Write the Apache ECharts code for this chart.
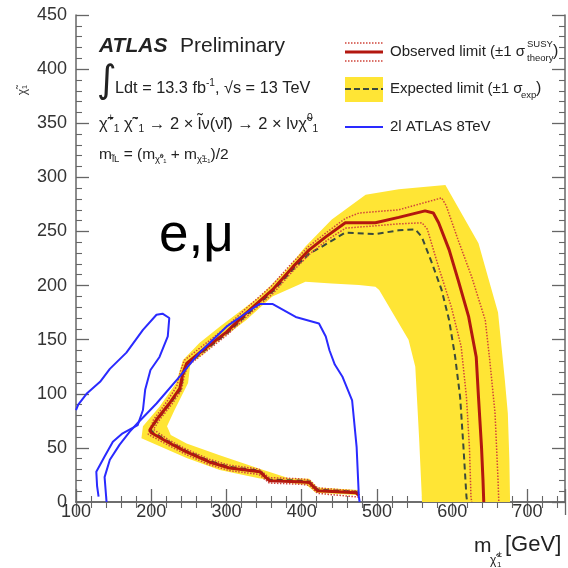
<!DOCTYPE html>
<html><head><meta charset="utf-8">
<script src="https://cdn.jsdelivr.net/npm/echarts@6/dist/echarts.min.js"></script>
<style>html,body{margin:0;padding:0;background:#fff}#c{width:568px;height:568px}</style>
</head><body><div id="c"></div>
<script>
// ---- data (GeV) ----
const xTicks = [100, 200, 300, 400, 500, 600, 700];
const yTicks = [0, 50, 100, 150, 200, 250, 300, 350, 400, 450];

const observed = [[476,6],[472,8.6],[421,10.5],[410,18],[396,18.8],[357,19.7],[344,28],[304,31.4],[277,37],[246,46.5],[224,54.5],[200,64],[198,66.5],[207,76],[224,91],[238,105],[242,119],[247,128],[268,140],[300,157],[326,174.5],[361,196],[388,217],[410,233],[432,245],[458,258],[498,258],[529,263],[564,269],[575,267],[582,258],[596,233],[608,205],[622,171],[632,134],[635,97],[639,51],[641,20],[642,0]];

const expected = [[476,8],[472,9.5],[421,11.5],[410,19],[396,19.8],[357,20.7],[344,29],[304,32.4],[277,38],[246,47.5],[224,55.5],[201,65],[199.5,67.5],[208,76],[225,91],[239,104],[243,118],[248,127],[269,139],[301,156],[327,173],[362,195],[389,215.5],[411,230],[427,236],[458,249],[498,247.6],[529,251],[551,252],[559.6,245],[573,221],[586,196],[596,168],[604,134],[610.6,97],[615,51],[619,5],[620,0]];

const theoryUp = [[476,4.5],[421,8],[410,15.5],[396,16.5],[357,17.5],[343,25.5],[304,29],[277,34.5],[246,44],[224,52],[196,62.5],[203,76],[221,93],[234,107],[239,121],[244,131],[266,143],[297,160],[324,177.5],[359,199],[386,220],[409,236],[431,248],[458,262],[476,267],[529,270],[586,281],[592,274],[608,242],[626,208],[644,168],[650,131],[657,82],[661,20],[662,0]];

const theoryDown = [[476,10],[421,13],[410,20.5],[396,21.5],[357,22.5],[343,30.5],[304,34],[277,39.5],[246,49],[224,57],[203,67],[210,75],[227,90],[240,103],[244,117],[249,126],[270,137.5],[301,154.5],[328,172],[363,193.5],[389,214],[412,230],[434,242],[458,253],[529,257],[560,258],[567,252],[582,217],[599,180],[612,143.5],[619,97],[623,50],[625,5],[626,0]];

const bandOuter = [[677,0],[676,40],[674,82],[670,113],[661,175],[648,207],[635,239],[591,293],[529,289],[485,284],[440,261],[405,236],[379,214],[344,190],[291,162],[264,147],[242,131],[233,110],[211,88],[189,70],[187,59],[247,40.6],[291,29.6],[343,22],[383,17.5],[406,16],[419,8.5],[472,6.5],[476,4.5]];
const bandInner = [[476,11],[421,13.5],[410,21.5],[383,22],[343,31],[290,43.4],[247,54],[226,62],[221,70],[231,85],[249,110],[252,128],[270,137],[286,147],[326,168],[361,190],[405,203.5],[440,202],[476,200.5],[498,199],[503,196],[542,150],[551,125],[556,60],[560,0]];

const atlas8TeV_a = [[100,85],[103,90],[114,100],[132,111],[145,123],[167,138],[189,159],[207,173],[215,174],[224,170],[222,153],[211,134],[199,122],[192,104],[189,85],[182,71],[162,63.5],[149,55.7],[138,42],[127,28],[128,15],[130,5]];
const atlas8TeV_b = [[140.6,0],[138,23],[145,39],[158,53],[171.5,65],[182,73],[207,91],[238,116],[264,138],[300,162],[326,174.6],[344,183],[361,183],[392,171],[423,165],[432,153],[437,140],[444,127],[454,116],[467,94],[473,51],[476,5],[477,0]];

// ---- chart ----
const FONT = "'Liberation Sans', Arial, Helvetica, sans-serif";
const RED = '#b3170f', DOT = '#d0443a', DASH = '#3b4a3c', BLUE = '#2a2aff', YEL = '#ffe535', AX = '#666';
const chart = echarts.init(document.getElementById('c'), null, {renderer: 'canvas'});

const commonAxis = {
  axisLine: {show: true, lineStyle: {color: AX, width: 1.5}},
  axisTick: {show: true, inside: true, length: 13, lineStyle: {color: AX, width: 1.3}},
  minorTick: {show: true, splitNumber: 5, length: 6, lineStyle: {color: AX, width: 1.1}},
  splitLine: {show: false}
};
const xAx = (pos, labels) => Object.assign({}, commonAxis, {
  type: 'value', position: pos, min: 100, max: 750, interval: 100,
  axisLabel: {show: labels, margin: 1, fontSize: 18, fontFamily: FONT, color: '#333',
    formatter: v => xTicks.includes(v) ? String(v) : ''}
});
const yAx = (pos, labels) => Object.assign({}, commonAxis, {
  type: 'value', position: pos, min: 0, max: 450, interval: 50,
  axisLabel: {show: labels, margin: 9, fontSize: 18, fontFamily: FONT, color: '#333',
    formatter: v => yTicks.includes(v) ? String(v) : ''}
});

const line = (data, color, width, type, z) => ({
  type: 'line', data, xAxisIndex: 0, yAxisIndex: 0, symbol: 'none', showSymbol: false,
  lineStyle: {color, width, type}, z, silent: true, animation: false
});

const T = (x, y, text, size, extra) => ({type: 'text', x, y, silent: true,
  style: Object.assign({text, fontSize: size, fontFamily: FONT, fill: '#222', align: 'left', verticalAlign: 'middle'}, extra || {})});

const richFormula = (size) => ({
  b: {fontSize: size, fontFamily: FONT, fill: '#222'},
  sp: {fontSize: size * 0.62, fontFamily: FONT, fill: '#222', padding: [0, 0, size * 0.75, 0]},
  sb: {fontSize: size * 0.62, fontFamily: FONT, fill: '#222', padding: [size * 0.6, 0, 0, 0]}
});

const graphics = [
  // ATLAS label
  T(99, 46, 'ATLAS', 21, {fontWeight: 'bold', fontStyle: 'italic'}),
  T(180, 46, 'Preliminary', 21),
  T(97, 82, '\u222B', 38, {fontFamily: "'DejaVu Sans', sans-serif"}),
  {type: 'text', x: 115, y: 89, silent: true, style: {text: '{b|Ldt = 13.3 fb}{sp|-1}{b|, \u221As = 13 TeV}', rich: richFormula(16.3), verticalAlign: 'middle', align: 'left'}},
  {type: 'text', x: 99, y: 124, silent: true, style: {text: '{b|\u03C7\u0303}{sp|+}{sb|1}{b| \u03C7\u0303}{sp|\u2212}{sb|1}{b| \u2192 2 \u00D7 l\u0303\u03BD(\u03BD\u0303l) \u2192 2 \u00D7 l\u03BD\u03C7\u0303}{sp|0}{sb|1}', rich: richFormula(16.5), verticalAlign: 'middle', align: 'left'}},
  {type: 'text', x: 99, y: 155, silent: true, style: {text: '{b|m}{sb|l\u0303L}{b| = (m}{sb|\u03C7\u0303\u2070\u2081}{b| + m}{sb|\u03C7\u0303\u00B1\u2081}{b|)/2}', rich: richFormula(15.5), verticalAlign: 'middle', align: 'left'}},
  // e,mu
  T(159, 236, 'e,\u03BC', 53, {fill: '#000'}),
  // legend: observed
  {type: 'line', silent: true, shape: {x1: 345, y1: 43, x2: 383, y2: 43}, style: {stroke: DOT, lineWidth: 1.5, lineDash: [1.5, 1.5]}},
  {type: 'line', silent: true, shape: {x1: 345, y1: 52, x2: 383, y2: 52}, style: {stroke: RED, lineWidth: 3}},
  {type: 'line', silent: true, shape: {x1: 345, y1: 61, x2: 383, y2: 61}, style: {stroke: DOT, lineWidth: 1.5, lineDash: [1.5, 1.5]}},
  T(390, 52, 'Observed limit (\u00B11 \u03C3', 15),
  T(527, 44, 'SUSY', 9.5),
  T(527, 58, 'theory', 9.5),
  T(553, 52, ')', 16),
  // legend: expected
  {type: 'rect', silent: true, shape: {x: 345, y: 77, width: 38, height: 25}, style: {fill: YEL}},
  {type: 'line', silent: true, shape: {x1: 345, y1: 89, x2: 383, y2: 89}, style: {stroke: DASH, lineWidth: 2, lineDash: [6, 3]}},
  T(390, 89, 'Expected limit (\u00B11 \u03C3', 15),
  T(521, 95, 'exp', 9.5),
  T(536, 89, ')', 16),
  // legend: 8 TeV
  {type: 'line', silent: true, shape: {x1: 345, y1: 127, x2: 383, y2: 127}, style: {stroke: BLUE, lineWidth: 2}},
  T(390, 127, '2l ATLAS 8TeV', 15),
  // x-axis title
  T(474, 546, 'm', 21),
  T(490, 561, '\u03C7\u0303', 12),
  T(497, 555, '\u00B1', 9),
  T(497, 565, '1', 8),
  T(505, 545, '[GeV]', 22),
  // y-axis title fragment (cropped)
  {type: 'text', x: 23, y: 90, rotation: Math.PI / 2, silent: true,
   style: {text: '\u03C7\u0303\u2081', fontSize: 12, fontFamily: FONT, fill: '#444', align: 'center', verticalAlign: 'middle'}}
];

chart.setOption({
  animation: false,
  backgroundColor: '#fff',
  grid: {left: 76, right: 1, top: 15, bottom: 66, containLabel: false},
  xAxis: [xAx('bottom', true), xAx('top', false)],
  yAxis: [yAx('left', true), yAx('right', false)],
  graphic: graphics,
  series: [
    {
      type: 'custom', coordinateSystem: 'cartesian2d', xAxisIndex: 0, yAxisIndex: 0, z: 1, silent: true,
      data: [bandOuter[0]],
      renderItem: (params, api) => ({
        type: 'polygon',
        shape: {points: bandOuter.concat(bandInner).map(p => api.coord(p))},
        style: {fill: YEL, stroke: null}
      })
    },
    line(expected, DASH, 2, [6, 4], 3),
    line(theoryUp, DOT, 1.5, [1.5, 1.5], 4),
    line(theoryDown, DOT, 1.5, [1.5, 1.5], 4),
    line(observed, RED, 3, 'solid', 5),
    line(atlas8TeV_a, BLUE, 2, 'solid', 6),
    line(atlas8TeV_b, BLUE, 2, 'solid', 6)
  ]
});
</script></body></html>
